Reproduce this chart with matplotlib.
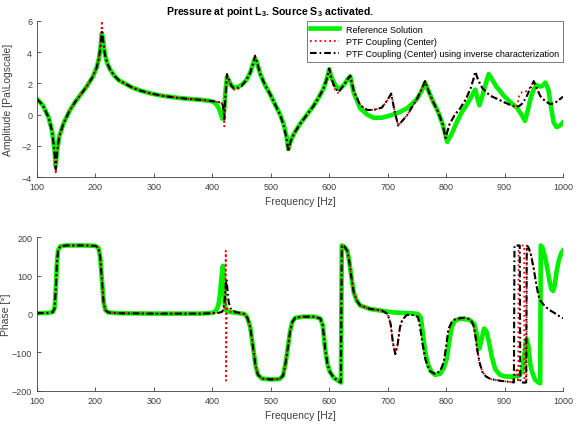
import matplotlib
matplotlib.use('Agg')
import matplotlib.pyplot as plt

plt.rcParams['font.family'] = ['Liberation Sans', 'DejaVu Sans']
plt.rcParams['mathtext.fontset'] = 'custom'
plt.rcParams['mathtext.rm'] = 'Liberation Sans'
plt.rcParams['mathtext.bf'] = 'Liberation Sans:bold'

# ---------------- amplitude (log scale) ----------------
# reference solution
f_amp_ref = [100, 110, 120, 126, 130, 132, 134, 138, 145, 155, 165, 175, 185, 195, 202, 206, 209, 211,
             213, 216, 220, 225, 232, 240, 250, 262, 276, 295, 316, 340, 362, 380, 396, 403, 408, 411,
             414, 417, 420, 422, 425, 428, 432, 436, 442, 450, 458, 465, 470, 473, 476, 482, 490, 499,
             508, 516, 522, 527, 530, 534, 540, 550, 562, 573, 582, 590, 596, 600, 604, 610, 616, 621,
             627, 632, 636, 642, 653, 665, 676, 690, 705, 720, 733, 742, 750, 758, 764, 770, 778, 786,
             794, 802, 810, 818, 826, 834, 841, 846, 850, 854, 857, 862, 868, 873, 878, 886, 899, 910,
             921, 929, 935, 940, 945, 950, 955, 960, 965, 970, 975, 980, 984, 989, 995, 1000]
amp_ref = [1.0, 0.6, -0.2, -1.1, -2.3, -3.3, -2.4, -1.4, -0.6, 0.2, 0.8, 1.3, 1.8, 2.4, 3.0, 3.6, 4.4, 5.2,
           4.8, 3.9, 3.3, 2.9, 2.5, 2.2, 2.0, 1.75, 1.55, 1.35, 1.2, 1.08, 1.0, 0.95, 0.88, 0.8, 0.6, 0.4,
           0.1, -0.25, 0.2, 1.3, 2.4, 2.2, 1.9, 1.75, 1.75, 1.9, 2.2, 2.7, 3.3, 3.6, 3.4, 2.6, 1.9, 1.3,
           0.6, 0.0, -0.6, -1.4, -2.2, -1.7, -1.2, -0.6, 0.0, 0.55, 1.1, 1.65, 2.3, 2.9, 2.4, 1.9, 1.65, 1.75,
           2.0, 2.3, 2.45, 1.4, 0.4, 0.0, -0.2, -0.2, -0.05, 0.15, 0.4, 0.7, 1.0, 1.5, 2.05, 1.5, 0.8, 0.2,
           -0.6, -1.75, -1.2, -0.5, 0.1, 0.55, 1.0, 1.35, 1.6, 1.0, 0.6, 1.2, 2.0, 2.6, 2.3, 1.8, 1.2, 0.8,
           0.45, 0.0, -0.4, 0.3, 1.1, 1.6, 1.9, 1.8, 1.85, 2.05, 1.6, 0.4, -0.5, -0.8, -0.7, -0.5]

# PTF coupling curves (shared frequency grid)
f_amp_ptf = [100, 110, 120, 126, 130, 132, 134, 138, 145, 155, 165, 175, 185, 195, 202, 206, 209, 211,
             213, 216, 220, 225, 232, 240, 250, 262, 276, 295, 316, 340, 362, 380, 396, 408, 414, 417,
             419, 420.5, 422, 425, 428, 432, 436, 442, 450, 458, 465, 470, 473, 476, 482, 490, 499,
             508, 516, 522, 527, 530, 534, 540, 550, 562, 573, 582, 590, 596, 600, 604, 610, 616, 621,
             627, 632, 636, 642, 653, 665, 676, 690, 700, 706, 712, 718, 725, 733, 742, 750, 758, 764,
             770, 778, 786, 794, 799, 806, 815, 824, 834, 842, 847, 850, 855, 862, 870, 876, 888, 899,
             910, 921, 925, 930, 937, 943, 950, 955, 961, 970, 978, 985, 990, 995, 1000]
amp_ptf = [1.0, 0.6, -0.2, -1.1, -2.4, -3.5, -2.5, -1.4, -0.6, 0.2, 0.8, 1.3, 1.8, 2.4, 3.0, 3.6, 4.5, 5.3,
           4.8, 3.9, 3.3, 2.9, 2.5, 2.2, 2.0, 1.75, 1.55, 1.35, 1.2, 1.08, 1.0, 0.95, 0.88, 0.82, 0.78, 0.72,
           0.4, -0.3, 0.9, 2.6, 2.3, 1.9, 1.7, 1.7, 1.85, 2.2, 2.7, 3.3, 3.75, 3.4, 2.6, 1.9, 1.3,
           0.6, 0.0, -0.7, -1.5, -2.35, -1.7, -1.2, -0.6, 0.0, 0.55, 1.1, 1.65, 2.3, 2.95, 2.3, 1.7, 1.45, 1.7,
           2.0, 2.3, 2.5, 1.5, 0.6, 0.3, 0.3, 0.45, 0.95, 1.35, 0.2, -0.7, -0.4, -0.05, 0.5, 1.0, 1.6, 2.15,
           1.5, 0.8, 0.2, -0.6, -1.5, -0.6, 0.0, 0.4, 1.0, 1.7, 2.3, 2.75, 2.2, 1.7, 1.4, 1.2, 1.0, 0.8,
           0.62, 0.5, 0.55, 0.7, 1.1, 1.6, 2.15, 1.7, 1.2, 0.85, 0.68, 0.72, 0.85, 1.0, 1.15]
amp_center = [1.0, 0.6, -0.2, -1.1, -2.5, -3.8, -2.6, -1.4, -0.6, 0.2, 0.8, 1.3, 1.8, 2.4, 3.0, 3.7, 4.7, 6.0,
              4.9, 3.9, 3.3, 2.9, 2.5, 2.2, 2.0, 1.75, 1.55, 1.35, 1.2, 1.08, 1.0, 0.95, 0.88, 0.82, 0.78, 0.72,
              0.3, -0.75, 0.8, 2.5, 2.2, 1.85, 1.6, 1.6, 1.8, 2.2, 2.7, 3.3, 3.8, 3.4, 2.6, 1.9, 1.3,
              0.6, 0.0, -0.7, -1.5, -2.4, -1.7, -1.2, -0.6, 0.0, 0.55, 1.1, 1.65, 2.3, 3.0, 2.2, 1.6, 1.35, 1.7,
              2.0, 2.3, 2.5, 1.5, 0.6, 0.3, 0.3, 0.45, 0.95, 1.35, 0.2, -0.7, -0.4, -0.05, 0.5, 1.0, 1.6, 2.15,
              1.5, 0.8, 0.2, -0.6, -1.5, -0.6, 0.0, 0.4, 1.0, 1.7, 2.3, 2.75, 2.2, 1.7, 1.4, 1.2, 1.0, 0.8,
              0.6, 0.45, 1.2, 1.45, 1.5, 1.7, 2.1, 1.7, 1.2, 0.85, 0.68, 0.72, 0.85, 1.0, 1.15]

# ---------------- phase ----------------
f_ph_ref = [100, 120, 127, 130, 132, 134, 136, 140, 150, 180, 200, 205, 208, 211, 214, 217, 222, 240, 300,
            380, 400, 406, 410, 413, 416, 418, 420, 421, 423, 428, 440, 455, 460, 465, 470, 474, 478, 485,
            500, 515, 521, 525, 529, 533, 537, 542, 555, 575, 585, 589, 593, 597, 601, 608, 615, 620, 621.5,
            626, 631, 634, 636, 639, 642, 647, 653, 670, 688, 710, 740, 752, 757, 761, 765, 770, 775, 781,
            790, 796, 801, 805, 810, 815, 824, 840, 848, 852, 855, 857, 860, 865, 869, 873, 878, 884, 892,
            900, 913, 925, 930, 933, 936, 938, 941, 944, 947, 952, 958, 961, 962, 965, 969, 973, 977, 980,
            983, 986, 989, 993, 997, 1000]
ph_ref = [2, 3, 5, 15, 60, 130, 165, 176, 178, 178, 177, 172, 150, 90, 30, 10, 4, 2, 1,
          1, 3, 8, 20, 50, 100, 125, 90, 30, 10, 6, 3, 0, -10, -35, -90, -135, -158, -168,
          -170, -169, -160, -130, -90, -45, -20, -10, -7, -7, -12, -30, -90, -130, -150, -166, -173, -178, 178,
          175, 164, 140, 117, 85, 56, 35, 22, 13, 9, 4, 2, 0, -10, -60, -105, -135, -150, -158,
          -155, -140, -117, -75, -32, -18, -12, -15, -25, -50, -80, -90, -70, -38, -45, -70, -110, -143, -158,
          -162, -163, -160, -150, -120, -75, -65, -85, -130, -150, -170, -178, -180, 178, 172, 150, 120, 85, 65,
          60, 75, 110, 140, 158, 165]

f_ph_inv = [100, 120, 127, 130, 132, 134, 136, 140, 150, 180, 200, 205, 208, 211, 214, 217, 222, 240, 300,
            380, 400, 410, 416, 419, 421, 423, 424.5, 426, 428, 432, 440, 455, 460, 465, 470, 474, 478, 485,
            500, 515, 521, 525, 529, 533, 537, 542, 555, 575, 585, 589, 593, 597, 601, 608, 615, 620, 621.5,
            626, 631, 634, 636, 639, 642, 647, 653, 670, 690, 700, 705, 709, 713, 717, 721, 725, 733, 745,
            752, 756, 760, 765, 772, 781, 790, 796, 800, 804, 810, 816, 833, 842, 847, 850, 853, 857, 862,
            868, 876, 895, 913, 916, 917, 926, 927, 937, 938, 941, 945, 950, 954, 958, 962, 967, 975, 984,
            992, 1000]
ph_inv = [2, 3, 5, 15, 60, 130, 165, 176, 178, 178, 177, 172, 150, 90, 30, 10, 4, 2, 1,
          1, 2, 3, 5, 12, 35, 75, 90, 60, 30, 12, 5, 0, -10, -35, -90, -135, -158, -168,
          -170, -169, -160, -130, -90, -45, -20, -10, -7, -7, -12, -30, -90, -130, -150, -166, -173, -178, 178,
          175, 164, 140, 117, 85, 56, 35, 22, 13, 9, 0, -25, -75, -104, -80, -35, -15, -2, -3,
          -8, -39, -80, -120, -148, -156, -148, -125, -85, -39, -20, -13, -9, -15, -30, -55, -91, -125, -150,
          -162, -169, -174, -177, -178, 178, 178, -178, -178, 178, 173, 155, 117, 80, 48, 33, 24, 12, 4,
          -4, -11]

f_ph_ctr = [100, 120, 127, 130, 132, 134, 136, 140, 150, 180, 200, 205, 208, 211, 214, 217, 222, 240, 300,
            380, 400, 410, 416, 420, 422, 423, 423.6, 424.6, 427, 432, 440, 455, 460, 465, 470, 474, 478, 485,
            500, 515, 521, 525, 529, 533, 537, 542, 555, 575, 585, 589, 593, 597, 601, 608, 615, 620, 621.5,
            626, 631, 634, 636, 639, 642, 647, 653, 670, 690, 700, 705, 709, 713, 717, 721, 725, 733, 745,
            752, 756, 760, 765, 772, 781, 790, 796, 800, 804, 810, 816, 833, 842, 847, 850, 853, 857, 862,
            868, 876, 895, 913, 918, 921, 923.5, 924, 933.5, 934, 937.5, 938, 941, 945, 950, 954, 958, 962, 967,
            975, 984, 992, 1000]
ph_ctr = [2, 3, 5, 15, 60, 130, 165, 176, 178, 178, 177, 172, 150, 90, 30, 10, 4, 2, 1,
          1, 2, 3, 5, 10, 40, 164, -173, 20, 10, 5, 3, 0, -10, -35, -90, -135, -158, -168,
          -170, -169, -160, -130, -90, -45, -20, -10, -7, -7, -12, -30, -90, -130, -150, -166, -173, -178, 178,
          175, 164, 140, 117, 85, 56, 35, 22, 13, 9, 0, -25, -75, -104, -80, -35, -15, -2, -3,
          -8, -39, -80, -120, -148, -156, -148, -125, -85, -39, -20, -13, -9, -15, -30, -55, -91, -125, -150,
          -162, -169, -174, -177, -160, -140, -177, 178, 178, -178, -178, 178, 173, 155, 117, 80, 48, 33, 24,
          12, 4, -4, -11]

labels = ['Reference Solution', 'PTF Coupling (Center)',
          'PTF Coupling (Center) using inverse characterization']
axcol = '#404040'
green = '#00f000'
dashdot = (0, (3.2, 1.4, 0.8, 1.4))

fig = plt.figure(figsize=(5.81, 4.27), dpi=100)
ax1 = fig.add_axes([0.0637, 0.583, 0.9053, 0.3655])
ax2 = fig.add_axes([0.0637, 0.082, 0.9053, 0.3606])


def style(ax):
    for s in ['top', 'right']:
        ax.spines[s].set_visible(False)
    for s in ['left', 'bottom']:
        ax.spines[s].set_color(axcol)
        ax.spines[s].set_linewidth(0.6)
    ax.tick_params(direction='in', length=3, width=0.6, colors=axcol, labelsize=6.5)
    ax.set_xlim(100, 1000)
    ax.set_xticks(range(100, 1001, 100))
    ax.set_xlabel('Frequency [Hz]', fontsize=7.5, color=axcol)


ax1.plot(f_amp_ref, amp_ref, color=green, lw=3.3, label=labels[0])
ax1.plot(f_amp_ptf, amp_center, color='red', lw=1.3, ls=':', label=labels[1])
ax1.plot(f_amp_ptf, amp_ptf, color='black', lw=1.5, ls=dashdot, label=labels[2])
style(ax1)
ax1.set_ylim(-4, 6)
ax1.set_yticks(range(-4, 7, 2))
ax1.set_ylabel('Amplitude [Pa\\Logscale]', fontsize=7.5, color=axcol)
ax1.yaxis.set_label_coords(-0.046, 0.5)
ax1.set_title(r'Pressure at point L$_\mathbf{3}$. Source S$_\mathbf{3}$ activated.',
              fontsize=7.6, fontweight='bold', pad=5, x=0.443)
leg = ax1.legend(loc='upper right', fontsize=6.5, frameon=True, fancybox=False,
                 edgecolor=axcol, handlelength=3.2, borderaxespad=0.0, labelspacing=0.35,
                 borderpad=0.4)
leg.get_frame().set_linewidth(0.6)

ax2.plot(f_ph_ref, ph_ref, color=green, lw=3.3)
ax2.plot(f_ph_ctr, ph_ctr, color='red', lw=1.3, ls=':')
ax2.plot(f_ph_inv, ph_inv, color='black', lw=1.5, ls=dashdot)
style(ax2)
ax2.set_ylim(-200, 200)
ax2.set_yticks(range(-200, 201, 100))
ax2.set_ylabel('Phase [°]', fontsize=7.5, color=axcol)
ax2.yaxis.set_label_coords(-0.05, 0.5)

fig.savefig('out.png', dpi=100)
